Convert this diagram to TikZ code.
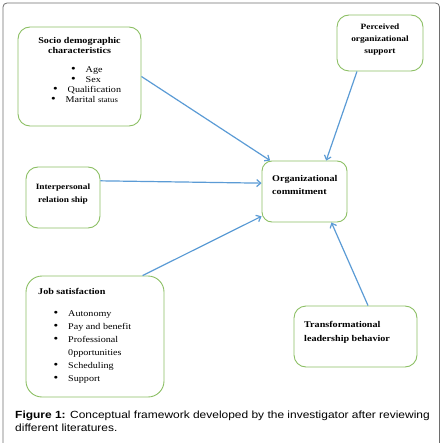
\documentclass[tikz,border=0pt]{standalone}
\usepackage{fontspec}
\setmainfont{Liberation Serif}[FakeStretch=1.15]
\newfontfamily\capfont{Liberation Sans}[FakeStretch=1.15]
\usetikzlibrary{arrows.meta}
\definecolor{boxgreen}{HTML}{8CBF64}
\definecolor{arrowblue}{HTML}{5B9BD5}
\definecolor{framegray}{HTML}{6E6E6E}
\tikzset{
  box/.style={draw=boxgreen, line width=0.9pt, rounded corners=12pt, inner sep=0pt},
  ttl/.style={inner sep=0pt, font=\fontsize{8.8}{10}\selectfont\bfseries},
  ttlsmall/.style={inner sep=0pt, font=\fontsize{8.1}{10}\selectfont\bfseries},
  itm/.style={inner sep=0pt, font=\fontsize{8.8}{10}\selectfont},
  conn/.style={draw=arrowblue, line width=1.2pt, -{Straight Barb[length=4pt,width=7pt]}},
  captext/.style={inner sep=0pt, font=\fontsize{10.4}{13}\selectfont\capfont}
}
\newcommand{\bul}{\makebox[14.5pt][l]{\raisebox{-0.4pt}{\fontsize{11.5}{11.5}\selectfont\textbullet}}}
\begin{document}
\begin{tikzpicture}[x=1pt,y=-1pt]
\useasboundingbox (0,0) rectangle (443,443);
\draw[framegray, line width=0.8pt, rounded corners=4pt] (3,446) -- (3,3) -- (439.5,3) -- (439.5,446);

% boxes
\node[box, minimum width=123pt, minimum height=99pt] (socio) at (79.5,76.5) {};
\node[box, minimum width=74pt, minimum height=61pt] (interp) at (63,197.5) {};
\node[box, minimum width=86pt, minimum height=56pt] (perc) at (380,43) {};
\node[box, minimum width=85pt, minimum height=61pt, rounded corners=10pt] (oc) at (304.5,191.5) {};
\node[box, minimum width=138pt, minimum height=121pt, rounded corners=16pt] (job) at (95,336.5) {};
\node[box, minimum width=123pt, minimum height=61pt] (trans) at (355.5,336.5) {};

% socio text
\node[ttl, anchor=mid] (socioT1) at (79.5,41) {Socio demographic};
\node[ttl, anchor=mid] (socioT2) at (79.5,51) {characteristics};
\node[itm, anchor=mid west] (socioB1) at (71,70) {\bul Age};
\node[itm, anchor=mid west] (socioB2) at (71,80) {\bul Sex};
\node[itm, anchor=mid west] (socioB3) at (53,90) {\bul Qualification};
\node[itm, anchor=mid west] (socioB4) at (51,100) {\bul Marital {\fontsize{7.6}{9}\selectfont status}};

% interpersonal
\node[ttlsmall, anchor=mid] (interpT1) at (63,187) {Interpersonal};
\node[ttlsmall, anchor=mid] (interpT2) at (63,200) {relation ship};

% perceived
\node[ttlsmall, anchor=mid] (percT1) at (380,27) {Perceived};
\node[ttlsmall, anchor=mid] (percT2) at (380,39) {organizational};
\node[ttlsmall, anchor=mid] (percT3) at (380,51.5) {support};

% organizational commitment
\node[ttl, anchor=mid west] (ocT1) at (272,179.5) {Organizational};
\node[ttl, anchor=mid west] (ocT2) at (272,192.5) {commitment};

% job satisfaction
\node[ttl, anchor=mid west] (jobT) at (38,292) {Job satisfaction};
\node[itm, anchor=mid west] (jobB1) at (53.5,314) {\bul Autonomy};
\node[itm, anchor=mid west] (jobB2) at (53.5,327) {\bul Pay and benefit};
\node[itm, anchor=mid west] (jobB3) at (53.5,340) {\bul Professional};
\node[itm, anchor=mid west] (jobB3b) at (68,353) {0pportunities};
\node[itm, anchor=mid west] (jobB4) at (53.5,366) {\bul Scheduling};
\node[itm, anchor=mid west] (jobB5) at (53.5,379) {\bul Support};

% transformational
\node[ttl, anchor=mid west] (transT1) at (304,325) {Transformational};
\node[ttl, anchor=mid west] (transT2) at (304,339) {leadership behavior};

% connectors
\draw[conn] (socio.east) -- (oc.138);
\draw[conn] (interp.24) -- (oc.169);
\draw[conn] (perc.231) -- (oc.55);
\draw[conn] (job.52) -- (oc.210);
\draw[conn] (trans.68) -- (oc.311);

% caption
\node[captext, anchor=base west] (cap1) at (15,418) {\textbf{Figure 1:} Conceptual framework developed by the investigator after reviewing};
\node[captext, anchor=base west] (cap2) at (15,431) {different literatures.};
\end{tikzpicture}
\end{document}
